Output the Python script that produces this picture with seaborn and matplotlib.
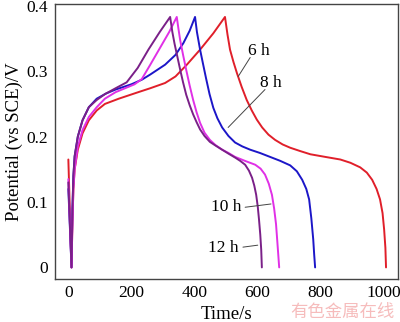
import numpy as np
import pandas as pd
import matplotlib
matplotlib.use("Agg")
import matplotlib.pyplot as plt
import seaborn as sns

# ---- data ----
t_6h = [0, 10, 13, 16, 20, 30, 45, 65, 90, 116, 160, 222, 260, 307, 340, 376, 418, 460, 497,
        505, 513, 524, 535, 550, 566, 582, 598, 615, 635, 656, 680, 704, 735, 768, 815, 863, 895,
        926, 947, 964, 978, 989, 997, 1002, 1006, 1008]
v_6h = [0.165, 0.0, 0.07, 0.12, 0.15, 0.18, 0.205, 0.225, 0.24, 0.25, 0.258, 0.268, 0.274, 0.282,
        0.292, 0.31, 0.333, 0.358, 0.383,
        0.356, 0.333, 0.314, 0.297, 0.276, 0.256, 0.24, 0.226, 0.214, 0.203, 0.195, 0.188, 0.183,
        0.178, 0.173, 0.169, 0.165, 0.16, 0.153, 0.145, 0.134, 0.12, 0.104, 0.083, 0.058,
        0.03, 0.0]

t_8h = [0, 10, 13, 16, 20, 30, 45, 65, 90, 120, 150, 200, 233, 260, 307, 340, 365, 385, 402,
        408, 418, 427, 437, 448, 460, 473, 488, 508, 529, 552, 577, 608, 640, 672, 704, 725,
        742, 755, 764, 771, 777, 780, 783]
v_8h = [0.12, 0.0, 0.09, 0.14, 0.17, 0.2, 0.225, 0.245, 0.258, 0.266, 0.272, 0.28, 0.287, 0.295,
        0.31, 0.325, 0.343, 0.362, 0.383,
        0.36, 0.333, 0.312, 0.289, 0.265, 0.244, 0.228, 0.214, 0.201, 0.191, 0.185, 0.18,
        0.175, 0.169, 0.163, 0.156, 0.147, 0.134, 0.12, 0.104, 0.075, 0.043, 0.02, 0.0]

t_10h = [0, 10, 13, 16, 20, 30, 45, 65, 90, 116, 150, 180, 210, 233, 260, 290, 320, 344,
         349, 355, 364, 374, 385, 396, 407, 418, 432, 449, 467, 488, 508, 529, 560, 593, 610,
         624, 636, 646, 653, 659, 663, 666, 669]
v_10h = [0.135, 0.0, 0.07, 0.12, 0.15, 0.185, 0.21, 0.23, 0.245, 0.258, 0.268, 0.274, 0.28, 0.288,
         0.31, 0.335, 0.36, 0.383,
         0.366, 0.347, 0.325, 0.302, 0.278, 0.256, 0.237, 0.221, 0.206, 0.195, 0.187, 0.18,
         0.175, 0.169, 0.163, 0.157, 0.151, 0.142, 0.128, 0.111, 0.09, 0.066, 0.04, 0.02, 0.0]

t_12h = [0, 10, 13, 16, 20, 30, 45, 65, 90, 116, 150, 185, 220, 254, 290, 323,
         330, 337, 346, 355, 364, 374, 385, 396, 407, 418, 432, 449, 468, 488, 508, 529, 545,
         561, 573, 583, 590, 596, 601, 605, 609, 612, 614]
v_12h = [0.13, 0.0, 0.09, 0.14, 0.17, 0.2, 0.225, 0.245, 0.256, 0.265, 0.274, 0.283, 0.305, 0.333,
         0.36, 0.383,
         0.36, 0.342, 0.322, 0.302, 0.283, 0.264, 0.248, 0.234, 0.222, 0.211, 0.201, 0.192,
         0.186, 0.18, 0.174, 0.168, 0.163, 0.157, 0.148, 0.137, 0.125, 0.111, 0.093, 0.073,
         0.05, 0.027, 0.0]

series_names = ["6 h", "8 h", "10 h", "12 h"]
series_colors = ["#e01f2a", "#1c16c8", "#e030e6", "#7a2088"]
x_ticks = [0, 200, 400, 600, 800, 1000]
y_ticks = [0, 0.1, 0.2, 0.3, 0.4]
y_tick_labels = ["0", "0.1", "0.2", "0.3", "0.4"]

frames = []
for name, t, v in zip(series_names, [t_6h, t_8h, t_10h, t_12h], [v_6h, v_8h, v_10h, v_12h]):
    frames.append(pd.DataFrame({"t": t, "v": v, "s": name}))
df = pd.concat(frames, ignore_index=True)

sns.set_theme(style="white")
plt.rcParams["font.family"] = ["Liberation Serif", "DejaVu Serif"]

fig = plt.figure(figsize=(4.0, 3.22), dpi=100)
ax = fig.add_axes([0.137, 0.135, 0.858, 0.853])

sns.lineplot(data=df, x="t", y="v", hue="s", hue_order=series_names,
             palette=series_colors, sort=False, estimator=None, units="s",
             linewidth=1.4, legend=False, ax=ax)

ax.set_xlim(-43, 1046)
ax.set_ylim(-0.017, 0.403)
ax.set_xticks(x_ticks)
ax.set_yticks(y_ticks)
ax.set_yticklabels(y_tick_labels)
ax.tick_params(direction="in", length=3, width=0.8, color="#333333",
               labelsize=12.5, labelcolor="black", pad=5)
for sp in ax.spines.values():
    sp.set_color("#444444")
    sp.set_linewidth(1.0)
    sp.set_visible(True)

ax.set_xlabel("Time/s", fontsize=13.5, labelpad=3, color="black")
ax.set_ylabel("Potential (vs SCE)/V", fontsize=13.5, labelpad=2, color="black")

# annotations
ann_kw = dict(fontsize=12.5, color="black", ha="center", va="center")
ax.text(604, 0.331, "6 h", **ann_kw)
ax.plot([577, 539], [0.321, 0.292], color="#444444", lw=0.7)
ax.text(642, 0.282, "8 h", **ann_kw)
ax.plot([624, 507], [0.272, 0.214], color="#444444", lw=0.7)
ax.text(501, 0.093, "10 h", **ann_kw)
ax.plot([561, 643], [0.092, 0.097], color="#444444", lw=0.7)
ax.text(492, 0.029, "12 h", **ann_kw)
ax.plot([554, 601], [0.031, 0.034], color="#444444", lw=0.7)

# watermark
fig.text(0.855, 0.031, "有色金属在线", fontsize=12.5, color="#f6bcbc",
         family=["Noto Sans CJK SC", "DejaVu Sans"], ha="center", va="center")

fig.savefig("out.png", dpi=100)
